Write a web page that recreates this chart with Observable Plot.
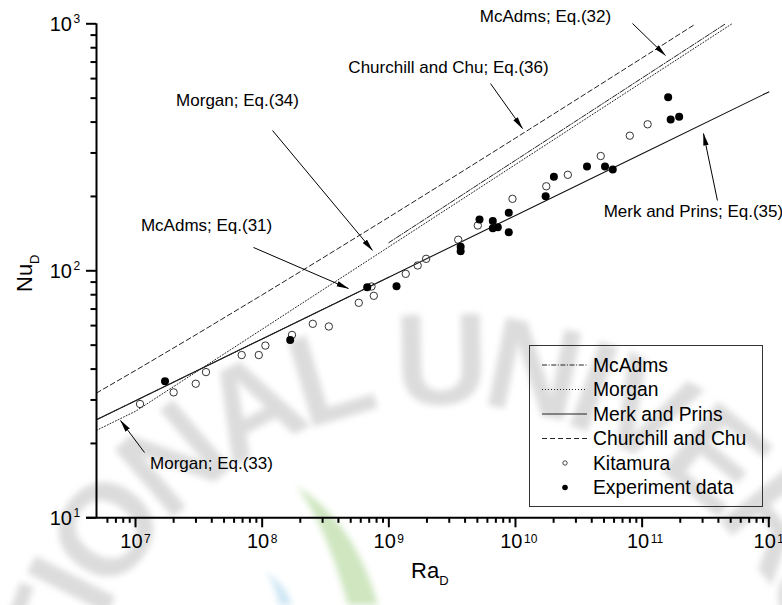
<!DOCTYPE html>
<html>
<head>
<meta charset="utf-8">
<script src="https://cdn.jsdelivr.net/npm/d3@7"></script>
<script src="https://cdn.jsdelivr.net/npm/@observablehq/plot@0.6"></script>
<style>
  body { margin: 0; background: #fff; }
  #chart svg { display: block; font-family: "Liberation Sans", Arial, sans-serif; }
</style>
</head>
<body>
<div id="chart"></div>
<script>
// Kitamura measurements (open circles)
const kitamuraRa = [1.085e7, 2.0e7, 2.99e7, 3.6e7, 6.89e7, 9.4e7, 1.06e8, 1.72e8, 2.51e8, 3.36e8, 5.79e8, 7.3e8, 7.61e8, 1.36e9, 1.69e9, 1.97e9, 3.53e9, 5.04e9, 9.47e9, 1.75e10, 2.59e10, 4.71e10, 7.99e10, 1.105e11];
const kitamuraNu = [28.9, 32.2, 34.9, 38.9, 45.6, 45.6, 49.8, 55.0, 61.0, 59.5, 74.2, 86.4, 79.2, 97.2, 105.1, 111.8, 133.6, 152.6, 195.6, 219.9, 244.7, 291.5, 352.4, 391.9];

// Present experiment (filled circles)
const experimentRa = [1.71e7, 1.665e8, 6.75e8, 1.15e9, 3.69e9, 3.69e9, 5.2e9, 6.62e9, 6.62e9, 7.25e9, 8.85e9, 8.85e9, 1.73e10, 2.01e10, 3.67e10, 5.09e10, 5.86e10, 1.605e11, 1.68e11, 1.96e11];
const experimentNu = [35.7, 52.5, 85.8, 86.6, 125.1, 120.1, 161.3, 159.1, 148.8, 150.2, 171.7, 143.3, 200.4, 240.4, 264.5, 264.5, 257.2, 504, 410, 420.3];

// Correlations as [Ra, Nu] pairs
const mcadamsEq31 = [[4.92e6, 24.96], [1e7, 29.8], [1e8, 53.0], [1e9, 94.25]];
const mcadamsEq32 = [[1e9, 130], [1e10, 280.1], [1e11, 603.4], [4.55e11, 1000]];
const morgan = [[4.92e6, 22.6], [1e7, 27.0], [1e8, 58.0], [1e9, 125], [1e10, 269.3], [1e11, 580.2], [5.12e11, 1000]];
const merkPrins = [[4.92e6, 24.96], [1e7, 29.8], [1e8, 53.0], [1e9, 94.25], [1e10, 167.6], [1e11, 298.0], [1e12, 530]];
const churchillChu = [[4.92e6, 32.0], [1e7, 39.5], [3e7, 55.1], [1e8, 79.9], [3e8, 112.6], [1e9, 164.8], [3e9, 234.0], [1e10, 344.6], [3e10, 491.8], [1e11, 727.2], [2.65e11, 1000]];

// Callouts: label position and arrow (from -> to), in data units
const notes = [
  {text: "McAdms; Eq.(32)", x: 1.725e10, y: 1071, x1: 8.39e10, y1: 1003, x2: 1.528e11, y2: 744},
  {text: "Churchill and Chu; Eq.(36)", x: 2.96e9, y: 665, x1: 6.35e9, y1: 573, x2: 1.136e10, y2: 376.8},
  {text: "Morgan; Eq.(34)", x: 6.39e7, y: 489, x1: 1.207e8, y1: 369.8, x2: 7.43e8, y2: 120.9},
  {text: "McAdms; Eq.(31)", x: 3.64e7, y: 152.6, x1: 8.54e7, y1: 124.3, x2: 4.8e8, y2: 84.8},
  {text: "Merk and Prins; Eq.(35)", x: 2.54e11, y: 173.9, x1: 3.93e11, y1: 192.6, x2: 3.05e11, y2: 359.6},
  {text: "Morgan; Eq.(33)", x: 3.98e7, y: 16.6, x1: 1.178e7, y1: 18.38, x2: 7.61e6, y2: 24.77}
];

// Axis ticks
const xDecades = [1e7, 1e8, 1e9, 1e10, 1e11, 1e12];
const xMinor = [6e6, 7e6, 8e6, 9e6].concat(...[1e7, 1e8, 1e9, 1e10, 1e11].map(d => [2, 3, 4, 5, 6, 7, 8, 9].map(k => k * d)));
const yDecades = [10, 100, 1000];
const yMinor = [20, 30, 40, 50, 60, 70, 80, 90, 200, 300, 400, 500, 600, 700, 800, 900];

// Legend entries
const legendLabels = ["McAdms", "Morgan", "Merk and Prins", "Churchill and Chu", "Kitamura", "Experiment data"];

const dashMcAdams = "5,1.6,1,1.6";
const dashMorgan = "1,2";
const dashChurchill = "5,3";

const noLabel = () => "";

const chart = Plot.plot({
  width: 782,
  height: 605,
  marginLeft: 96,
  marginRight: 13.7,
  marginTop: 23.3,
  marginBottom: 87.7,
  x: {type: "log", domain: [4.92e6, 1e12], axis: null},
  y: {type: "log", domain: [10, 1000], axis: null},
  style: {background: "white", fontFamily: "Liberation Sans, Arial, sans-serif", color: "#000"},
  marks: [
    // correlations
    Plot.line(churchillChu, {x: d => d[0], y: d => d[1], stroke: "#222", strokeWidth: 1, strokeDasharray: dashChurchill}),
    Plot.line(merkPrins, {x: d => d[0], y: d => d[1], stroke: "#111", strokeWidth: 1.1}),
    Plot.line(morgan, {x: d => d[0], y: d => d[1], stroke: "#222", strokeWidth: 1, strokeDasharray: dashMorgan}),
    Plot.line(mcadamsEq31, {x: d => d[0], y: d => d[1], stroke: "#222", strokeWidth: 1, strokeDasharray: dashMcAdams}),
    Plot.line(mcadamsEq32, {x: d => d[0], y: d => d[1], stroke: "#222", strokeWidth: 1, strokeDasharray: dashMcAdams}),
    // data
    Plot.dot(kitamuraRa, {x: kitamuraRa, y: kitamuraNu, r: 3.7, stroke: "#333", strokeWidth: 1, fill: "none"}),
    Plot.dot(experimentRa, {x: experimentRa, y: experimentNu, r: 4, fill: "#000", stroke: "none"}),
    // callouts
    Plot.link(notes, {x1: "x1", y1: "y1", x2: "x2", y2: "y2", stroke: "#000", strokeWidth: 1, markerEnd: "arrow"}),
    Plot.text(notes, {x: "x", y: "y", text: "text", fontSize: 17, fill: "#000"}),
    // axes
    Plot.axisX({ticks: xDecades, tickSize: 10, tickFormat: noLabel, strokeWidth: 2, label: null, anchor: "bottom"}),
    Plot.axisX({ticks: xMinor, tickSize: 5.5, tickFormat: noLabel, strokeWidth: 2, label: null, anchor: "bottom"}),
    Plot.axisY({ticks: yDecades, tickSize: 10, tickFormat: noLabel, strokeWidth: 2, label: null, anchor: "left"}),
    Plot.axisY({ticks: yMinor, tickSize: 5.5, tickFormat: noLabel, strokeWidth: 2, label: null, anchor: "left"}),
    Plot.ruleX([4.92e6], {strokeWidth: 2, stroke: "#000", insetBottom: -1}),
    Plot.ruleY([10], {strokeWidth: 2, stroke: "#000", insetLeft: -10, insetRight: -2}),
    // decade labels 10^n
    Plot.text(xDecades, {x: d => d, frameAnchor: "bottom", text: () => "10", textAnchor: "end", dx: 7, dy: 30, fontSize: 20}),
    Plot.text(xDecades, {x: d => d, frameAnchor: "bottom", text: d => String(Math.round(Math.log10(d))), textAnchor: "start", dx: 8.5, dy: 25, fontSize: 12}),
    Plot.text(yDecades, {y: d => d, frameAnchor: "left", text: () => "10", textAnchor: "end", dx: -24.5, dy: 0.5, fontSize: 20}),
    Plot.text(yDecades, {y: d => d, frameAnchor: "left", text: d => String(Math.round(Math.log10(d))), textAnchor: "start", dx: -23, dy: -4.5, fontSize: 12})
  ]
});

document.getElementById("chart").appendChild(chart);
const svg = d3.select(chart);

// Solid, narrow arrowheads for the callouts
svg.selectAll("marker").each(function () {
  const m = d3.select(this);
  m.attr("viewBox", "-12 -4 13 8")
    .attr("markerWidth", 13)
    .attr("markerHeight", 8)
    .attr("markerUnits", "userSpaceOnUse")
    .attr("fill", "#000")
    .attr("stroke", "none");
  m.selectAll("*").remove();
  m.append("path").attr("d", "M-12,-2.7L0.5,0L-12,2.7Z");
});

// Faint institutional watermark behind the plot
const defs = svg.append("defs");
const arc = d3.path();
arc.arc(445, 782, 378, -Math.PI - 0.6, 0.6);
defs.append("path").attr("id", "wm-arc").attr("d", arc.toString());
defs.append("filter").attr("id", "wm-blur").attr("x", "-20%").attr("y", "-20%").attr("width", "140%").attr("height", "140%")
  .append("feGaussianBlur").attr("stdDeviation", 3);
const wm = svg.insert("g", "g").attr("filter", "url(#wm-blur)");
wm.append("text").attr("font-size", 130).attr("font-weight", "bold").attr("letter-spacing", -10)
  .attr("fill", "#dcdcdc").attr("text-anchor", "start")
  .append("textPath").attr("href", "#wm-arc").attr("startOffset", 165).text("NATIONAL UNIVERSITY");
wm.append("path").attr("d", "M296,486 Q324,520 348,605 L378,605 Q354,520 296,486 Z").attr("fill", "#cfe6c0");
wm.append("path").attr("d", "M266,572 Q276,585 279,605 L292,605 Q286,585 266,572 Z").attr("fill", "#cde6f4");

// Axis titles with subscripts
const xt = svg.append("text").attr("x", 411).attr("y", 578).attr("font-size", 22).attr("fill", "#000").attr("text-anchor", "start");
xt.append("tspan").text("Ra");
xt.append("tspan").attr("font-size", 13).attr("dy", 7).text("D");

const yt = svg.append("text").attr("transform", "translate(32,292) rotate(-90)").attr("font-size", 22).attr("fill", "#000").attr("text-anchor", "start");
yt.append("tspan").text("Nu");
yt.append("tspan").attr("font-size", 13).attr("dy", 7).text("D");

// Legend
const lg = svg.append("g").attr("font-size", 19.3).attr("fill", "#000").attr("text-anchor", "start");
lg.append("rect").attr("x", 529.5).attr("y", 345.5).attr("width", 233).attr("height", 161)
  .attr("fill", "none").attr("stroke", "#333").attr("stroke-width", 1);
const rowY = i => 365 + i * 24.5;
const styles = [dashMcAdams, dashMorgan, null, dashChurchill];
styles.forEach((dash, i) => {
  const l = lg.append("line").attr("x1", 542).attr("x2", 587).attr("y1", rowY(i)).attr("y2", rowY(i))
    .attr("stroke", "#222").attr("stroke-width", 1);
  if (dash) l.attr("stroke-dasharray", dash);
});
lg.append("circle").attr("cx", 565).attr("cy", rowY(4)).attr("r", 2.2).attr("fill", "none").attr("stroke", "#333").attr("stroke-width", 0.9);
lg.append("circle").attr("cx", 565).attr("cy", rowY(5)).attr("r", 2.8).attr("fill", "#000");
legendLabels.forEach((t, i) => {
  lg.append("text").attr("x", 593).attr("y", rowY(i)).attr("dy", "0.35em").text(t);
});
</script>
</body>
</html>
